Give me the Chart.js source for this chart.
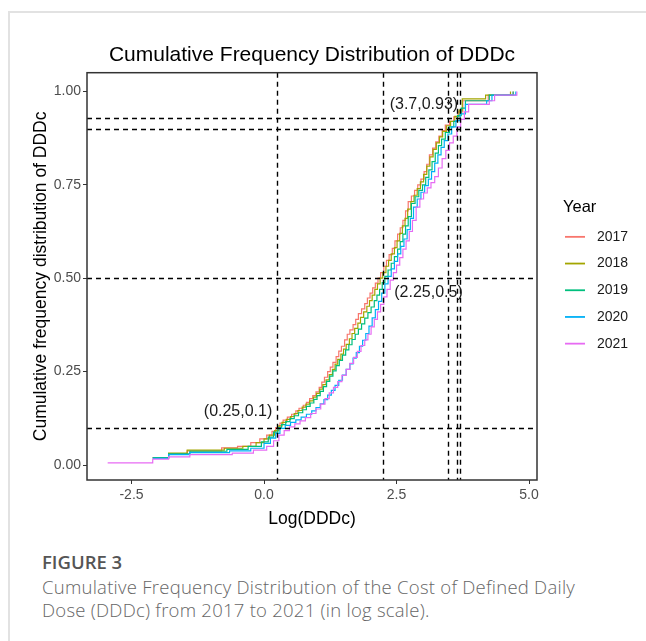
<!DOCTYPE html>
<html>
<head>
<meta charset="utf-8">
<script src="https://cdn.jsdelivr.net/npm/chart.js@4/dist/chart.umd.min.js"></script>
<style>
    html, body { margin: 0; padding: 0; background: #fff; }
    body { width: 646px; height: 641px; position: relative; overflow: hidden; }
    .card { position: absolute; left: 8px; top: 11px; right: 0; bottom: 0; border-top: 2px solid #e2e2e2; border-left: 2px solid #e2e2e2; }
    #chart { position: absolute; left: 0; top: 0; }
    .fig-label { position: absolute; left: 42px; top: 550px; font: 600 18.5px/24px "Open Sans", sans-serif; color: #555; }
    .fig-caption { position: absolute; left: 42px; top: 575px; font: 300 18.5px/23px "Open Sans", sans-serif; letter-spacing: 0.25px; color: #666; white-space: nowrap; }
</style>
</head>
<body>
<div class="card"></div>
<canvas id="chart" width="646" height="530"></canvas>
<div class="fig-label">FIGURE 3</div>
<div class="fig-caption">Cumulative Frequency Distribution of the Cost of Defined Daily<br>Dose (DDDc) from 2017 to 2021 (in log scale).</div>
<script>
(function () {
    'use strict';

    // ECDF steps: x = Log(DDDc), y = cumulative share
    var years = ['2017', '2018', '2019', '2020', '2021'];
    var colors = ['#F8766D', '#A3A500', '#00BF7D', '#00B0F6', '#E76BF3'];

    var x2017 = [-2.1, -1.8, -1.45, -0.8, -0.5, -0.25, -0.08, 0.05, 0.15, 0.22, 0.3, 0.36, 0.44, 0.52, 0.6, 0.66, 0.74, 0.8, 0.86, 0.92, 0.98, 1.04, 1.09, 1.14, 1.2, 1.25, 1.3, 1.36, 1.41, 1.46, 1.52, 1.57, 1.62, 1.68, 1.73, 1.78, 1.84, 1.9, 1.95, 2.0, 2.05, 2.1, 2.15, 2.2, 2.26, 2.31, 2.36, 2.42, 2.47, 2.52, 2.57, 2.62, 2.67, 2.72, 2.78, 2.84, 2.9, 2.96, 3.02, 3.07, 3.12, 3.18, 3.24, 3.3, 3.36, 3.42, 3.5, 3.58, 3.66, 3.75, 4.23, 4.7];
    var y2017 = [0.02, 0.03, 0.038, 0.046, 0.05, 0.06, 0.07, 0.08, 0.09, 0.1, 0.112, 0.12, 0.128, 0.136, 0.145, 0.152, 0.16, 0.168, 0.178, 0.186, 0.196, 0.208, 0.222, 0.235, 0.25, 0.262, 0.275, 0.29, 0.305, 0.318, 0.335, 0.35, 0.362, 0.376, 0.39, 0.405, 0.418, 0.432, 0.447, 0.46, 0.474, 0.487, 0.5, 0.515, 0.532, 0.548, 0.563, 0.58, 0.6, 0.618, 0.635, 0.655, 0.68, 0.705, 0.72, 0.735, 0.75, 0.765, 0.785, 0.805, 0.83, 0.848, 0.865, 0.88, 0.895, 0.91, 0.92, 0.932, 0.945, 0.975, 0.99, 1.0];

    var x2018 = [-2.1, -1.8, -1.45, -0.75, -0.4, -0.15, 0.0, 0.1, 0.2, 0.28, 0.34, 0.42, 0.5, 0.57, 0.64, 0.72, 0.79, 0.86, 0.93, 0.99, 1.05, 1.11, 1.17, 1.23, 1.29, 1.34, 1.39, 1.45, 1.5, 1.55, 1.61, 1.66, 1.71, 1.77, 1.82, 1.88, 1.94, 1.99, 2.04, 2.09, 2.14, 2.19, 2.24, 2.3, 2.35, 2.4, 2.46, 2.51, 2.56, 2.61, 2.66, 2.71, 2.77, 2.83, 2.89, 2.95, 3.01, 3.07, 3.13, 3.19, 3.25, 3.31, 3.37, 3.44, 3.52, 3.6, 3.68, 3.74, 4.18, 4.65];
    var y2018 = [0.02, 0.032, 0.04, 0.045, 0.05, 0.06, 0.07, 0.08, 0.092, 0.105, 0.114, 0.122, 0.13, 0.138, 0.146, 0.155, 0.163, 0.172, 0.182, 0.192, 0.203, 0.215, 0.228, 0.242, 0.256, 0.27, 0.283, 0.297, 0.31, 0.323, 0.338, 0.352, 0.366, 0.38, 0.395, 0.41, 0.425, 0.44, 0.455, 0.47, 0.485, 0.5, 0.515, 0.532, 0.548, 0.565, 0.582, 0.6, 0.62, 0.64, 0.66, 0.685, 0.705, 0.722, 0.74, 0.758, 0.778, 0.8, 0.825, 0.845, 0.862, 0.878, 0.893, 0.908, 0.92, 0.933, 0.95, 0.98, 0.99, 1.0];

    var x2019 = [-2.1, -1.8, -1.4, -0.7, -0.3, -0.05, 0.08, 0.18, 0.26, 0.33, 0.41, 0.49, 0.57, 0.65, 0.73, 0.8, 0.87, 0.94, 1.0, 1.06, 1.12, 1.18, 1.24, 1.3, 1.36, 1.42, 1.48, 1.54, 1.6, 1.66, 1.72, 1.78, 1.84, 1.9, 1.96, 2.02, 2.08, 2.13, 2.18, 2.23, 2.28, 2.34, 2.4, 2.46, 2.52, 2.57, 2.62, 2.67, 2.72, 2.78, 2.85, 2.92, 2.99, 3.05, 3.11, 3.17, 3.23, 3.29, 3.35, 3.42, 3.5, 3.58, 3.65, 3.72, 3.8, 4.25, 4.7];
    var y2019 = [0.02, 0.03, 0.037, 0.042, 0.05, 0.062, 0.075, 0.088, 0.1, 0.108, 0.116, 0.124, 0.132, 0.14, 0.148, 0.157, 0.166, 0.176, 0.186, 0.197, 0.21, 0.224, 0.238, 0.252, 0.266, 0.28, 0.294, 0.308, 0.322, 0.336, 0.35, 0.364, 0.378, 0.393, 0.408, 0.423, 0.44, 0.455, 0.47, 0.488, 0.505, 0.522, 0.54, 0.558, 0.578, 0.598, 0.618, 0.64, 0.665, 0.7, 0.718, 0.735, 0.75, 0.77, 0.79, 0.812, 0.835, 0.855, 0.872, 0.89, 0.905, 0.92, 0.935, 0.955, 0.975, 0.99, 1.0];

    var x2020 = [-2.1, -1.8, -1.4, -0.65, -0.25, 0.0, 0.12, 0.22, 0.3, 0.4, 0.5, 0.6, 0.7, 0.8, 0.9, 0.98, 1.06, 1.13, 1.2, 1.27, 1.34, 1.41, 1.48, 1.55, 1.62, 1.68, 1.74, 1.8, 1.86, 1.92, 1.98, 2.04, 2.1, 2.16, 2.22, 2.28, 2.34, 2.4, 2.46, 2.52, 2.58, 2.64, 2.7, 2.76, 2.82, 2.89, 2.96, 3.03, 3.1, 3.16, 3.22, 3.28, 3.34, 3.4, 3.47, 3.54, 3.62, 3.7, 3.8, 4.2, 4.3, 4.75];
    var y2020 = [0.018, 0.028, 0.033, 0.038, 0.045, 0.058, 0.072, 0.085, 0.098, 0.106, 0.114, 0.121, 0.128, 0.136, 0.145, 0.154, 0.164, 0.175, 0.187, 0.2, 0.213, 0.227, 0.241, 0.256, 0.271, 0.286, 0.301, 0.318, 0.334, 0.352, 0.372, 0.394, 0.416, 0.438, 0.46, 0.485, 0.505, 0.525, 0.545, 0.565, 0.585, 0.605, 0.63, 0.66, 0.69, 0.712, 0.73, 0.748, 0.765, 0.785, 0.808, 0.83, 0.85, 0.868, 0.886, 0.905, 0.922, 0.94, 0.965, 0.975, 0.99, 1.0];

    var x2021 = [-2.95, -2.1, -1.8, -1.4, -0.6, -0.2, 0.05, 0.18, 0.28, 0.38, 0.48, 0.58, 0.68, 0.78, 0.88, 0.98, 1.07, 1.15, 1.23, 1.31, 1.39, 1.47, 1.55, 1.62, 1.69, 1.76, 1.83, 1.9, 1.96, 2.02, 2.08, 2.14, 2.2, 2.26, 2.32, 2.38, 2.44, 2.5, 2.56, 2.62, 2.68, 2.74, 2.8, 2.87, 2.94, 3.01, 3.08, 3.15, 3.22, 3.29, 3.36, 3.43, 3.5, 3.57, 3.64, 3.71, 3.78, 3.86, 4.25, 4.35, 4.77];
    var y2021 = [0.006, 0.016, 0.022, 0.028, 0.032, 0.04, 0.05, 0.065, 0.08, 0.092, 0.102, 0.11, 0.118, 0.127, 0.138, 0.15, 0.163, 0.178, 0.193, 0.208, 0.223, 0.24, 0.256, 0.272, 0.288, 0.304, 0.32, 0.335, 0.35, 0.37, 0.39, 0.41, 0.43, 0.45, 0.47, 0.495, 0.515, 0.535, 0.555, 0.578, 0.6, 0.625, 0.655, 0.69, 0.712, 0.728, 0.742, 0.756, 0.772, 0.795, 0.82, 0.842, 0.862, 0.88, 0.905, 0.925, 0.945, 0.965, 0.975, 0.99, 1.0];

    var seriesX = [x2017, x2018, x2019, x2020, x2021];
    var seriesY = [y2017, y2018, y2019, y2020, y2021];

    var xTicks = [-2.5, 0, 2.5, 5];
    var xTickLabels = ['-2.5', '0.0', '2.5', '5.0'];
    var yTicks = [0, 0.25, 0.5, 0.75, 1];
    var yTickLabels = ['0.00', '0.25', '0.50', '0.75', '1.00'];

    // reference lines and their labels
    var vLines = [0.25, 2.25, 3.47, 3.65, 3.7];
    var hLines = [0.1, 0.5, 0.9, 0.93];
    var noteX = [0.25, 2.25, 3.7];
    var noteY = [0.1, 0.5, 0.93];
    var noteText = ['(0.25,0.1)', '(2.25,0.5)', '(3.7,0.93)'];

    var FONT = '"Liberation Sans", Arial, sans-serif';
    var noteStyle = [
        { dx: -5, dy: -16, align: 'right' },
        { dx: 11, dy: 14, align: 'left' },
        { dx: -2, dy: -13, align: 'right' }
    ];

    var datasets = years.map(function (year, i) {
        return {
            label: year,
            data: seriesX[i].map(function (x, j) { return { x: x, y: seriesY[i][j] }; }),
            borderColor: colors[i],
            backgroundColor: colors[i],
            borderWidth: 1.2,
            stepped: true,
            pointRadius: 0,
            fill: false,
            order: years.length - i
        };
    });

    var guides = {
        id: 'guides',
        afterDatasetsDraw: function (chart) {
            var ctx = chart.ctx, a = chart.chartArea, xs = chart.scales.x, ys = chart.scales.y;
            ctx.save();
            ctx.beginPath();
            ctx.rect(a.left, a.top, a.right - a.left, a.bottom - a.top);
            ctx.clip();
            ctx.strokeStyle = '#000';
            ctx.lineWidth = 1.4;
            ctx.setLineDash([5, 4]);
            vLines.forEach(function (v) {
                var px = Math.round(xs.getPixelForValue(v)) + 0.5;
                ctx.beginPath(); ctx.moveTo(px, a.top); ctx.lineTo(px, a.bottom); ctx.stroke();
            });
            hLines.forEach(function (v) {
                var py = Math.round(ys.getPixelForValue(v)) + 0.5;
                ctx.beginPath(); ctx.moveTo(a.left, py); ctx.lineTo(a.right, py); ctx.stroke();
            });
            ctx.restore();

            ctx.save();
            ctx.fillStyle = '#1a1a1a';
            ctx.font = '16px ' + FONT;
            ctx.textBaseline = 'middle';
            noteText.forEach(function (t, i) {
                ctx.textAlign = noteStyle[i].align;
                ctx.fillText(t, xs.getPixelForValue(noteX[i]) + noteStyle[i].dx, ys.getPixelForValue(noteY[i]) + noteStyle[i].dy);
            });

            // panel border
            ctx.strokeStyle = '#333';
            ctx.lineWidth = 1.5;
            ctx.strokeRect(a.left, a.top, a.right - a.left, a.bottom - a.top);
            ctx.restore();
        }
    };

    var yearLegend = {
        id: 'yearLegend',
        afterDraw: function (chart) {
            var ctx = chart.ctx, a = chart.chartArea;
            var mid = (a.top + a.bottom) / 2;
            ctx.save();
            ctx.textBaseline = 'middle';
            ctx.textAlign = 'left';
            ctx.fillStyle = '#000';
            ctx.font = '16.5px ' + FONT;
            ctx.fillText('Year', a.right + 26, mid - 68.5);
            ctx.font = '14px ' + FONT;
            chart.data.datasets.forEach(function (ds, i) {
                var y = mid - 39.5 + i * 26.7;
                ctx.strokeStyle = ds.borderColor;
                ctx.lineWidth = 1.8;
                ctx.beginPath(); ctx.moveTo(a.right + 28, y); ctx.lineTo(a.right + 48, y); ctx.stroke();
                ctx.fillStyle = '#1a1a1a';
                ctx.fillText(ds.label, a.right + 60, y);
            });
            ctx.restore();
        }
    };

    new Chart(document.getElementById('chart'), {
        type: 'line',
        data: { datasets: datasets },
        plugins: [guides, yearLegend],
        options: {
            responsive: false,
            animation: false,
            layout: { padding: { left: 31, right: 109, top: 43, bottom: 0 } },
            plugins: {
                legend: { display: false },
                tooltip: { enabled: false },
                title: {
                    display: true,
                    fullSize: false,
                    text: 'Cumulative Frequency Distribution of DDDc',
                    color: '#000',
                    font: { family: FONT, size: 21, weight: 'normal' },
                    padding: { top: 0, bottom: 4.5 }
                }
            },
            scales: {
                x: {
                    type: 'linear',
                    min: -3.34,
                    max: 5.15,
                    afterFit: function (s) { s.height = 50; },
                    afterBuildTicks: function (s) { s.ticks = xTicks.map(function (v) { return { value: v }; }); },
                    grid: { drawOnChartArea: false, tickLength: 4, color: '#333', tickWidth: 1 },
                    border: { display: false },
                    ticks: {
                        padding: 3,
                        color: '#4D4D4D',
                        font: { family: FONT, size: 14 },
                        maxRotation: 0,
                        callback: function (v) { return xTickLabels[xTicks.indexOf(v)]; }
                    },
                    title: { display: true, text: 'Log(DDDc)', color: '#000', font: { family: FONT, size: 17.5 }, padding: 0 }
                },
                y: {
                    type: 'linear',
                    min: -0.04,
                    max: 1.05,
                    afterFit: function (s) { s.width = 56; },
                    afterBuildTicks: function (s) { s.ticks = yTicks.map(function (v) { return { value: v }; }); },
                    grid: { drawOnChartArea: false, tickLength: 4, color: '#333', tickWidth: 1 },
                    border: { display: false },
                    ticks: {
                        padding: 2,
                        color: '#4D4D4D',
                        font: { family: FONT, size: 14 },
                        callback: function (v) { return yTickLabels[yTicks.indexOf(v)]; }
                    },
                    title: { display: true, text: 'Cumulative frequency distribution of DDDc', color: '#000', font: { family: FONT, size: 17.5 }, padding: 0 }
                }
            }
        }
    });
}());
</script>
</body>
</html>
